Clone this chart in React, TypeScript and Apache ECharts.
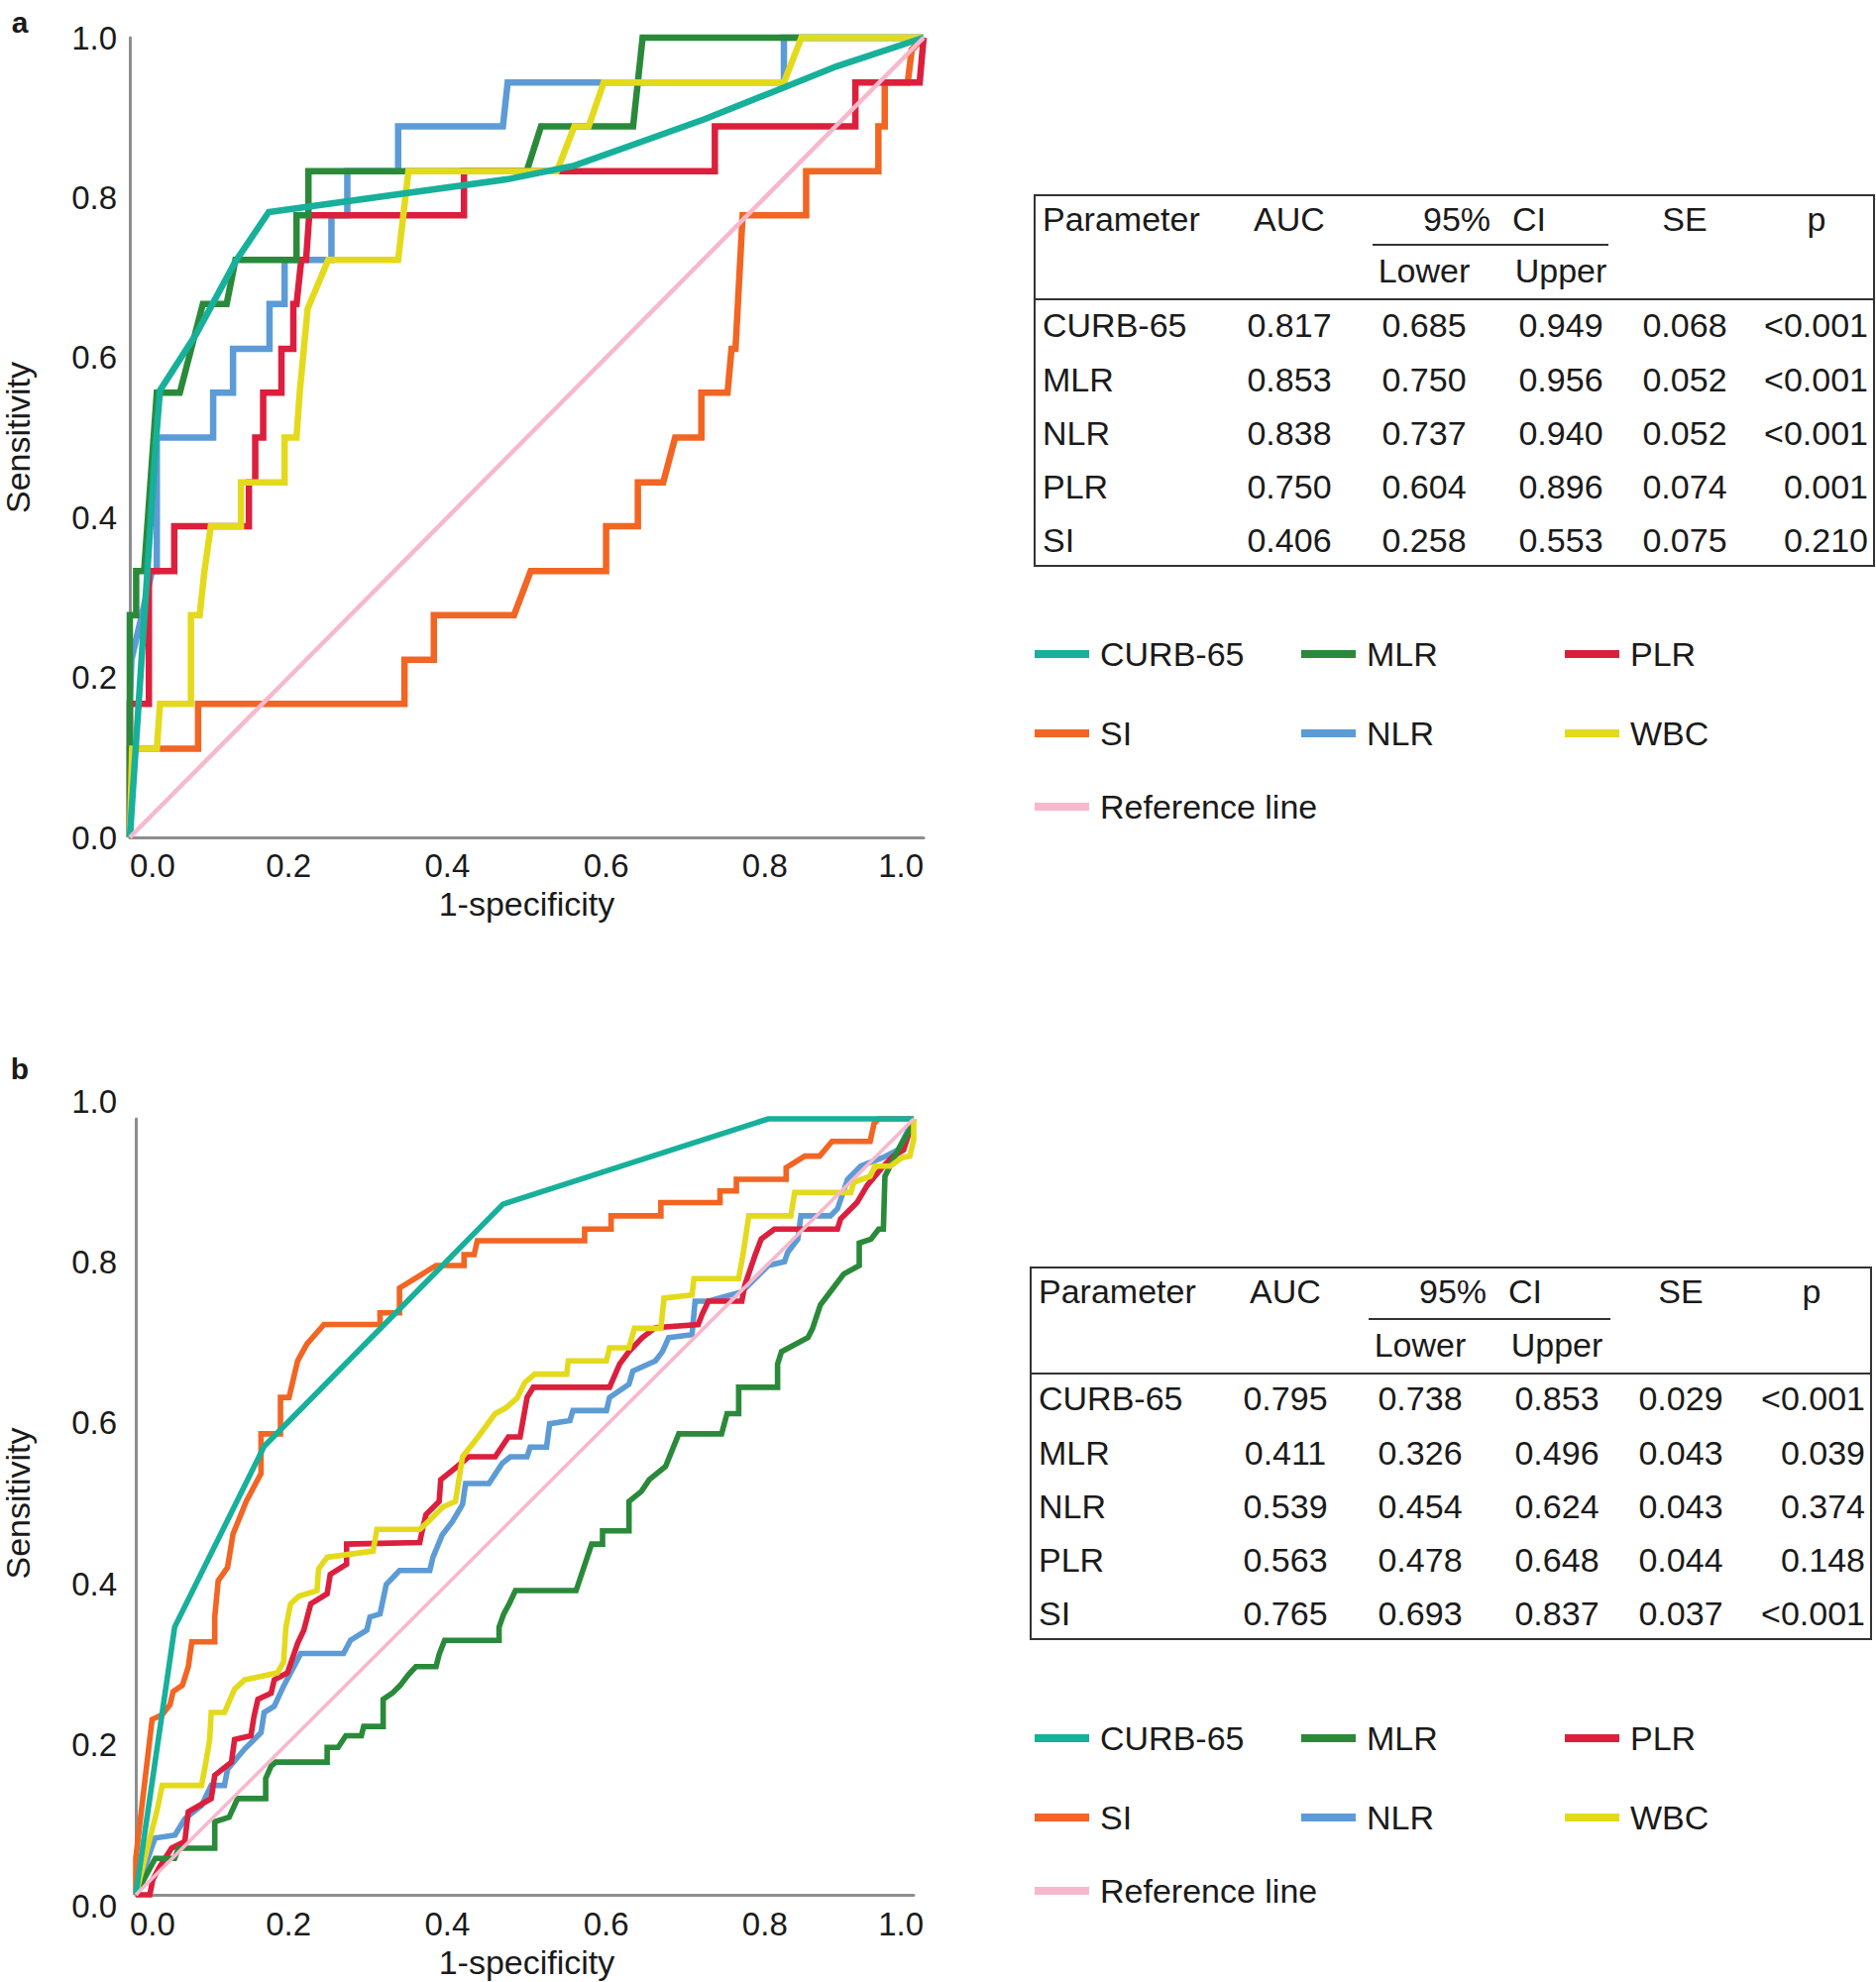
import React, { useEffect, useRef } from "react";
import * as echarts from "echarts";

// ---------- DATA ----------
const ticks = [0, 0.2, 0.4, 0.6, 0.8, 1.0];
const names = ["CURB-65", "MLR", "PLR", "SI", "NLR", "WBC", "Reference line"];

// Panel a ROC curves ([1-specificity, sensitivity])
const curbA = [[0,0],[0.033,0.497],[0.038,0.559],[0.084,0.63],[0.133,0.72],[0.175,0.782],[0.476,0.823],[0.56,0.84],[0.642,0.869],[0.724,0.898],[0.807,0.931],[0.89,0.964],[1,1]];
const mlrA = [[0,0],[0,0.278],[0.008,0.278],[0.008,0.333],[0.018,0.333],[0.034,0.556],[0.063,0.556],[0.092,0.667],[0.122,0.667],[0.133,0.722],[0.21,0.722],[0.21,0.778],[0.225,0.778],[0.225,0.833],[0.5,0.833],[0.518,0.889],[0.634,0.889],[0.646,1],[1,1]];
const nlrA = [[0,0],[0,0.167],[0.002,0.222],[0.028,0.333],[0.034,0.333],[0.034,0.5],[0.105,0.5],[0.105,0.556],[0.13,0.556],[0.13,0.611],[0.176,0.611],[0.176,0.667],[0.195,0.667],[0.195,0.722],[0.254,0.722],[0.254,0.778],[0.274,0.778],[0.274,0.833],[0.338,0.833],[0.338,0.889],[0.47,0.889],[0.476,0.944],[0.824,0.944],[0.824,1],[1,1]];
const plrA = [[0,0],[0,0.167],[0.024,0.167],[0.024,0.333],[0.056,0.333],[0.056,0.389],[0.15,0.389],[0.15,0.444],[0.158,0.444],[0.158,0.5],[0.168,0.5],[0.168,0.556],[0.191,0.556],[0.191,0.611],[0.206,0.611],[0.206,0.667],[0.21,0.667],[0.216,0.722],[0.222,0.722],[0.226,0.778],[0.421,0.778],[0.421,0.833],[0.737,0.833],[0.737,0.889],[0.914,0.889],[0.914,0.944],[0.995,0.944],[1,1]];
const wbcA = [[0,0],[0.003,0.111],[0.034,0.111],[0.038,0.167],[0.077,0.167],[0.077,0.278],[0.088,0.278],[0.094,0.333],[0.102,0.389],[0.14,0.389],[0.14,0.444],[0.195,0.444],[0.195,0.5],[0.21,0.5],[0.214,0.556],[0.224,0.661],[0.25,0.722],[0.338,0.722],[0.351,0.833],[0.538,0.833],[0.56,0.889],[0.578,0.889],[0.597,0.944],[0.824,0.944],[0.846,1],[1,1]];
const siA = [[0,0],[0,0.111],[0.086,0.111],[0.086,0.167],[0.346,0.167],[0.346,0.222],[0.383,0.222],[0.383,0.278],[0.484,0.278],[0.505,0.333],[0.6,0.333],[0.6,0.389],[0.64,0.389],[0.64,0.444],[0.672,0.444],[0.687,0.5],[0.72,0.5],[0.72,0.556],[0.753,0.556],[0.758,0.611],[0.763,0.611],[0.772,0.778],[0.852,0.778],[0.852,0.833],[0.943,0.833],[0.943,0.889],[0.951,0.889],[0.951,0.944],[0.98,0.944],[0.985,0.985],[1,1]];

// Panel b ROC curves
const curbB = [[0,0],[0.05,0.345],[0.165,0.578],[0.472,0.89],[0.813,1],[1,1]];
const siB = [[0,0],[0,0.047],[0.021,0.226],[0.034,0.232],[0.044,0.245],[0.048,0.262],[0.06,0.27],[0.0675,0.294],[0.072,0.326],[0.1015,0.326],[0.1015,0.358],[0.106,0.405],[0.118,0.422],[0.125,0.465],[0.142,0.507],[0.161,0.543],[0.161,0.594],[0.186,0.594],[0.186,0.641],[0.197,0.641],[0.208,0.688],[0.22,0.71],[0.242,0.735],[0.314,0.735],[0.314,0.75],[0.339,0.75],[0.339,0.782],[0.36,0.795],[0.386,0.811],[0.422,0.811],[0.422,0.825],[0.435,0.825],[0.439,0.843],[0.577,0.843],[0.577,0.858],[0.611,0.858],[0.611,0.875],[0.675,0.875],[0.675,0.892],[0.751,0.892],[0.751,0.907],[0.772,0.907],[0.772,0.922],[0.836,0.922],[0.836,0.937],[0.86,0.952],[0.879,0.952],[0.895,0.971],[0.944,0.971],[0.949,0.994],[0.955,1],[1,1]];
const mlrB = [[0,0],[0.025,0.047],[0.05,0.047],[0.055,0.06],[0.1015,0.06],[0.1015,0.094],[0.12,0.1],[0.131,0.124],[0.167,0.124],[0.167,0.15],[0.174,0.166],[0.18,0.171],[0.246,0.171],[0.246,0.19],[0.26,0.19],[0.27,0.205],[0.29,0.205],[0.293,0.217],[0.318,0.217],[0.318,0.252],[0.33,0.26],[0.34,0.27],[0.35,0.283],[0.36,0.294],[0.386,0.294],[0.39,0.31],[0.397,0.328],[0.467,0.328],[0.467,0.345],[0.473,0.362],[0.48,0.375],[0.488,0.392],[0.566,0.392],[0.586,0.452],[0.6,0.452],[0.6,0.469],[0.634,0.469],[0.634,0.507],[0.65,0.52],[0.66,0.535],[0.681,0.552],[0.698,0.594],[0.753,0.594],[0.76,0.62],[0.775,0.62],[0.775,0.654],[0.825,0.654],[0.825,0.684],[0.83,0.7],[0.864,0.718],[0.87,0.73],[0.88,0.76],[0.895,0.78],[0.91,0.8],[0.93,0.811],[0.93,0.84],[0.945,0.845],[0.955,0.858],[0.961,0.858],[0.963,0.926],[0.97,0.94],[0.98,0.96],[0.995,0.986],[1,1]];
const nlrB = [[0,0],[0.01,0.03],[0.02,0.06],[0.025,0.073],[0.0505,0.077],[0.063,0.098],[0.0845,0.115],[0.097,0.141],[0.114,0.141],[0.118,0.162],[0.14,0.188],[0.161,0.209],[0.165,0.235],[0.178,0.243],[0.19,0.269],[0.208,0.303],[0.212,0.311],[0.267,0.311],[0.276,0.328],[0.297,0.341],[0.301,0.358],[0.314,0.362],[0.322,0.4],[0.339,0.418],[0.378,0.418],[0.382,0.435],[0.394,0.464],[0.407,0.481],[0.42,0.503],[0.424,0.53],[0.454,0.53],[0.471,0.556],[0.4815,0.5645],[0.503,0.5645],[0.507,0.577],[0.528,0.577],[0.532,0.607],[0.558,0.611],[0.562,0.624],[0.605,0.624],[0.609,0.641],[0.634,0.658],[0.639,0.675],[0.668,0.688],[0.677,0.7],[0.685,0.718],[0.715,0.722],[0.719,0.765],[0.736,0.765],[0.779,0.777],[0.796,0.794],[0.813,0.811],[0.834,0.816],[0.838,0.828],[0.851,0.845],[0.855,0.875],[0.893,0.875],[0.902,0.884],[0.915,0.922],[0.932,0.939],[0.96,0.95],[0.98,0.96],[1,1]];
const plrB = [[0,0],[0.018,0],[0.022,0.02],[0.03,0.035],[0.046,0.06],[0.063,0.0685],[0.0675,0.107],[0.097,0.124],[0.1015,0.154],[0.123,0.171],[0.127,0.2],[0.148,0.205],[0.152,0.23],[0.157,0.252],[0.174,0.26],[0.178,0.277],[0.195,0.286],[0.208,0.324],[0.216,0.341],[0.225,0.375],[0.246,0.388],[0.25,0.413],[0.271,0.426],[0.271,0.452],[0.365,0.454],[0.369,0.473],[0.373,0.49],[0.39,0.507],[0.392,0.535],[0.407,0.547],[0.428,0.5645],[0.462,0.5645],[0.479,0.59],[0.494,0.59],[0.503,0.641],[0.511,0.654],[0.609,0.654],[0.622,0.684],[0.634,0.7],[0.651,0.718],[0.668,0.731],[0.723,0.735],[0.728,0.748],[0.736,0.765],[0.779,0.765],[0.783,0.786],[0.796,0.824],[0.804,0.845],[0.821,0.858],[0.902,0.858],[0.906,0.871],[0.927,0.892],[0.94,0.914],[0.961,0.939],[0.974,0.952],[0.987,0.96],[1,1]];
const wbcB = [[0,0],[0.01,0.04],[0.02,0.08],[0.027,0.107],[0.034,0.141],[0.0845,0.141],[0.09,0.17],[0.095,0.2],[0.097,0.235],[0.114,0.235],[0.127,0.265],[0.14,0.277],[0.182,0.286],[0.19,0.3],[0.193,0.345],[0.199,0.375],[0.21,0.385],[0.233,0.392],[0.235,0.42],[0.246,0.435],[0.305,0.443],[0.31,0.471],[0.365,0.471],[0.375,0.48],[0.385,0.49],[0.395,0.5],[0.411,0.507],[0.42,0.5645],[0.44,0.59],[0.462,0.62],[0.475,0.627],[0.49,0.64],[0.5,0.66],[0.513,0.671],[0.554,0.671],[0.556,0.688],[0.605,0.688],[0.609,0.705],[0.634,0.705],[0.641,0.73],[0.675,0.73],[0.679,0.769],[0.715,0.773],[0.7175,0.794],[0.775,0.794],[0.781,0.828],[0.788,0.875],[0.842,0.875],[0.847,0.905],[0.919,0.905],[0.923,0.918],[0.944,0.926],[0.95,0.939],[0.97,0.939],[0.985,0.95],[0.995,0.952],[1,0.973],[1,1]];
const refLine = [[0,0],[1,1]];

// Tables
const tableParams = ["CURB-65", "MLR", "NLR", "PLR", "SI"];
const aucA = ["0.817", "0.853", "0.838", "0.750", "0.406"];
const lowerA = ["0.685", "0.750", "0.737", "0.604", "0.258"];
const upperA = ["0.949", "0.956", "0.940", "0.896", "0.553"];
const seA = ["0.068", "0.052", "0.052", "0.074", "0.075"];
const pA = ["<0.001", "<0.001", "<0.001", "0.001", "0.210"];
const aucB = ["0.795", "0.411", "0.539", "0.563", "0.765"];
const lowerB = ["0.738", "0.326", "0.454", "0.478", "0.693"];
const upperB = ["0.853", "0.496", "0.624", "0.648", "0.837"];
const seB = ["0.029", "0.043", "0.043", "0.044", "0.037"];
const pB = ["<0.001", "0.039", "0.374", "0.148", "<0.001"];

// ---------- STYLE ----------
const FONT = '"Liberation Sans", Arial, Helvetica, sans-serif';
const TXT = "#1a1a1a";
const AXIS = "#8e8e8e";
const COLORS: Record<string, string> = {
  "CURB-65": "#17b09a",
  MLR: "#2a8a3a",
  PLR: "#dc1f3d",
  SI: "#f26522",
  NLR: "#5c9bd6",
  WBC: "#e4da1c",
  "Reference line": "#f7b8cc",
};

function mkSeries(name: string, data: number[][], idx: number, w: number) {
  return {
    type: "line",
    name,
    data,
    xAxisIndex: idx,
    yAxisIndex: idx,
    showSymbol: false,
    symbol: "none",
    clip: false,
    lineStyle: { color: COLORS[name], width: name === "Reference line" ? w - 2 : w, join: "miter" },
    itemStyle: { color: COLORS[name] },
    emphasis: { disabled: true },
  };
}

function tableGraphics(L: any, auc: string[], lower: string[], upper: string[], se: string[], p: string[]) {
  const els: any[] = [];
  const txt = (text: string, x: number, y: number, align: string) => ({
    type: "text",
    x,
    y,
    style: {
      text,
      fill: TXT,
      fontSize: 34,
      fontFamily: FONT,
      align,
      textAlign: align,
      verticalAlign: "middle",
      textVerticalAlign: "middle",
    },
  });
  els.push({ type: "rect", shape: { x: L.left, y: L.top, width: L.right - L.left, height: L.bottom - L.top }, style: { fill: "none", stroke: "#333", lineWidth: 2 } });
  els.push({ type: "line", shape: { x1: L.ciX1, y1: L.ciY, x2: L.ciX2, y2: L.ciY }, style: { stroke: "#333", lineWidth: 2 } });
  els.push({ type: "line", shape: { x1: L.left, y1: L.sepY, x2: L.right, y2: L.sepY }, style: { stroke: "#333", lineWidth: 2 } });
  els.push(txt("Parameter", L.colParam, L.headY, "left"));
  els.push(txt("AUC", L.colAuc, L.headY, "center"));
  els.push(txt("95%", L.col95, L.headY, "center"));
  els.push(txt("CI", L.colCI, L.headY, "center"));
  els.push(txt("SE", L.colSe, L.headY, "center"));
  els.push(txt("p", L.colPHead, L.headY, "center"));
  els.push(txt("Lower", L.colLower, L.subY, "center"));
  els.push(txt("Upper", L.colUpper, L.subY, "center"));
  tableParams.forEach((name, i) => {
    const y = L.rowY[i];
    els.push(txt(name, L.colParam, y, "left"));
    els.push(txt(auc[i], L.colAuc, y, "center"));
    els.push(txt(lower[i], L.colLower, y, "center"));
    els.push(txt(upper[i], L.colUpper, y, "center"));
    els.push(txt(se[i], L.colSe, y, "center"));
    els.push(txt(p[i], L.colP, y, "right"));
  });
  return els;
}

const layoutA = { left: 1044, right: 1891, top: 197, bottom: 571, ciX1: 1385, ciX2: 1623, ciY: 247, sepY: 302, headY: 221, subY: 273, rowY: [328, 383, 437, 491, 545], colParam: 1052, colAuc: 1301, col95: 1470, colCI: 1543, colSe: 1700, colPHead: 1833, colLower: 1437, colUpper: 1575, colP: 1885 };
const layoutB = { left: 1040, right: 1888, top: 1279, bottom: 1654, ciX1: 1381, ciX2: 1625, ciY: 1331, sepY: 1386, headY: 1303, subY: 1357, rowY: [1411, 1466, 1520, 1574, 1628], colParam: 1048, colAuc: 1297, col95: 1466, colCI: 1539, colSe: 1696, colPHead: 1828, colLower: 1433, colUpper: 1571, colP: 1882 };

function legends(rowsY: number[]) {
  const cols = [1044, 1313, 1579];
  const arrangement = [
    ["CURB-65", "MLR", "PLR"],
    ["SI", "NLR", "WBC"],
    ["Reference line"],
  ];
  const out: any[] = [];
  arrangement.forEach((row, r) =>
    row.forEach((n, c) => {
      out.push({
        data: [n],
        left: cols[c],
        top: rowsY[r] - 17,
        icon: "rect",
        itemWidth: 55,
        itemHeight: 8,
        padding: 0,
        selectedMode: false,
        textStyle: { fontSize: 34, fontFamily: FONT, color: TXT, padding: [0, 0, 0, 6] },
      });
    })
  );
  return out;
}

const axisLabelBase = { fontSize: 33, fontFamily: FONT, color: TXT, formatter: (v: number) => v.toFixed(1) };
const nameStyle = { fontSize: 34, fontFamily: FONT, color: TXT };

export default function App() {
  const ref = useRef<HTMLDivElement>(null);
  useEffect(() => {
    if (!ref.current) return;
    const chart = echarts.init(ref.current, null, { renderer: "svg" });
    const order = ["SI", "NLR", "PLR", "MLR", "WBC", "CURB-65", "Reference line"];
    const dataA: Record<string, number[][]> = { "CURB-65": curbA, MLR: mlrA, PLR: plrA, SI: siA, NLR: nlrA, WBC: wbcA, "Reference line": refLine };
    const dataB: Record<string, number[][]> = { "CURB-65": curbB, MLR: mlrB, PLR: plrB, SI: siB, NLR: nlrB, WBC: wbcB, "Reference line": refLine };
    const series = [
      ...order.map((n) => mkSeries(n, dataA[n], 0, 6.5)),
      ...order.map((n) => mkSeries(n, dataB[n], 2, 5.6)),
    ];
    const hidden = { show: false };
    chart.setOption({
      animation: false,
      backgroundColor: "#ffffff",
      grid: [
        { left: 126, top: 38, width: 806, height: 807 },
        { left: 126, top: 1111, width: 806, height: 812 },
        { left: 137, top: 1129, width: 785, height: 783 },
      ],
      xAxis: [
        {
          gridIndex: 0, type: "value", min: 0, max: 1, interval: 0.2,
          axisLine: { show: true, lineStyle: { color: AXIS, width: 3 } },
          axisTick: hidden, splitLine: hidden,
          axisLabel: { ...axisLabelBase, margin: 12, alignMinLabel: "left", alignMaxLabel: "right" },
          name: "1-specificity", nameLocation: "middle", nameGap: 50, nameTextStyle: nameStyle,
        },
        {
          gridIndex: 1, type: "value", min: 0, max: 1, interval: 0.2,
          axisLine: hidden, axisTick: hidden, splitLine: hidden,
          axisLabel: { ...axisLabelBase, margin: 2, alignMinLabel: "left", alignMaxLabel: "right" },
          name: "1-specificity", nameLocation: "middle", nameGap: 40, nameTextStyle: nameStyle,
        },
        {
          gridIndex: 2, type: "value", min: 0, max: 1, interval: 0.2,
          axisLine: { show: true, lineStyle: { color: AXIS, width: 3 } },
          axisTick: hidden, splitLine: hidden, axisLabel: hidden,
        },
      ],
      yAxis: [
        {
          gridIndex: 0, type: "value", min: 0, max: 1, interval: 0.2,
          axisLine: { show: true, lineStyle: { color: AXIS, width: 3 } },
          axisTick: hidden, splitLine: hidden,
          axisLabel: { ...axisLabelBase, margin: 13 },
          name: "Sensitivity", nameLocation: "middle", nameGap: 96, nameTextStyle: nameStyle,
        },
        {
          gridIndex: 1, type: "value", min: 0, max: 1, interval: 0.2,
          axisLine: hidden, axisTick: hidden, splitLine: hidden,
          axisLabel: { ...axisLabelBase, margin: 13 },
          name: "Sensitivity", nameLocation: "middle", nameGap: 96, nameTextStyle: nameStyle,
        },
        {
          gridIndex: 2, type: "value", min: 0, max: 1, interval: 0.2,
          axisLine: { show: true, lineStyle: { color: AXIS, width: 3 } },
          axisTick: hidden, splitLine: hidden, axisLabel: hidden,
        },
      ],
      legend: [...legends([660, 740, 814]), ...legends([1754, 1834, 1908])],
      graphic: [
        { type: "text", x: 20, y: 22, style: { text: "a", fill: TXT, fontSize: 30, fontWeight: "bold", fontFamily: FONT, align: "center", textAlign: "center", verticalAlign: "middle", textVerticalAlign: "middle" } },
        { type: "text", x: 20, y: 1078, style: { text: "b", fill: TXT, fontSize: 30, fontWeight: "bold", fontFamily: FONT, align: "center", textAlign: "center", verticalAlign: "middle", textVerticalAlign: "middle" } },
        ...tableGraphics(layoutA, aucA, lowerA, upperA, seA, pA),
        ...tableGraphics(layoutB, aucB, lowerB, upperB, seB, pB),
      ],
      series,
    });
    return () => chart.dispose();
  }, []);
  return <div ref={ref} style={{ position: "absolute", left: 0, top: 0, width: 1893, height: 2000 }} />;
}
